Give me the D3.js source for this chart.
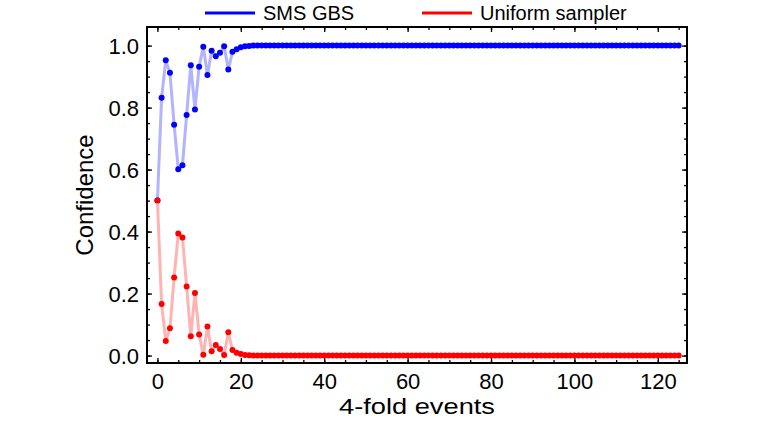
<!DOCTYPE html>
<html>
<head>
<meta charset="utf-8">
<script src="https://cdn.jsdelivr.net/npm/d3@7"></script>
<style>
  body { margin: 0; background: #fff; }
  svg { display: block; font-family: "Liberation Sans", Arial, sans-serif; }
  .frame { fill: none; stroke: #000; stroke-width: 2; }
  .tick line { stroke: #000; stroke-width: 1.3; }
  .tick text { font-size: 22px; fill: #000; }
  .title { font-size: 24px; fill: #000; }
  .legend text { font-size: 20px; fill: #000; }
</style>
</head>
<body>
<div id="chart"></div>
<script>
// Confidence after each 4-fold event (index = number of events).
var smsGbs = [
  0.5, 0.832, 0.953, 0.912, 0.745, 0.601, 0.614, 0.776, 0.937, 0.794,
  0.932, 0.996, 0.905, 0.983, 0.966, 0.977, 0.998, 0.923, 0.980, 0.988,
  0.995, 0.998, 0.999, 1, 1, 1, 1, 1, 1, 1,
  1, 1, 1, 1, 1, 1, 1, 1, 1, 1,
  1, 1, 1, 1, 1, 1, 1, 1, 1, 1,
  1, 1, 1, 1, 1, 1, 1, 1, 1, 1,
  1, 1, 1, 1, 1, 1, 1, 1, 1, 1,
  1, 1, 1, 1, 1, 1, 1, 1, 1, 1,
  1, 1, 1, 1, 1, 1, 1, 1, 1, 1,
  1, 1, 1, 1, 1, 1, 1, 1, 1, 1,
  1, 1, 1, 1, 1, 1, 1, 1, 1, 1,
  1, 1, 1, 1, 1, 1, 1, 1, 1, 1,
  1, 1, 1, 1, 1, 1
];
var uniform = [
  0.5, 0.166, 0.047, 0.088, 0.252, 0.394, 0.381, 0.223, 0.062, 0.202,
  0.068, 0.003, 0.094, 0.014, 0.034, 0.021, 0.002, 0.075, 0.018, 0.009,
  0.005, 0.002, 0.001, 0, 0, 0, 0, 0, 0, 0,
  0, 0, 0, 0, 0, 0, 0, 0, 0, 0,
  0, 0, 0, 0, 0, 0, 0, 0, 0, 0,
  0, 0, 0, 0, 0, 0, 0, 0, 0, 0,
  0, 0, 0, 0, 0, 0, 0, 0, 0, 0,
  0, 0, 0, 0, 0, 0, 0, 0, 0, 0,
  0, 0, 0, 0, 0, 0, 0, 0, 0, 0,
  0, 0, 0, 0, 0, 0, 0, 0, 0, 0,
  0, 0, 0, 0, 0, 0, 0, 0, 0, 0,
  0, 0, 0, 0, 0, 0, 0, 0, 0, 0,
  0, 0, 0, 0, 0, 0
];
var seriesNames = ['SMS GBS', 'Uniform sampler'];
var xTicks = [0, 20, 40, 60, 80, 100, 120];
var yTicks = [0.0, 0.2, 0.4, 0.6, 0.8, 1.0];

var width = 757, height = 421;
var plotLeft = 147, plotRight = 687, plotTop = 27, plotBottom = 363;

var x = d3.scaleLinear().domain([-2.5, 127]).range([plotLeft, plotRight]);
var y = d3.scaleLinear().domain([-0.024, 1.06]).range([plotBottom, plotTop]);

var svg = d3.select('#chart').append('svg')
    .attr('width', width)
    .attr('height', height);

// Ticks point inward on all four sides; only bottom and left carry labels.
var minorX = d3.range(0, 126, 5);
var minorY = d3.range(0, 1.0001, 0.05);

function noDomain(g) { g.select('.domain').remove(); }

svg.append('g')
    .attr('transform', 'translate(0,' + plotBottom + ')')
    .call(d3.axisBottom(x).tickValues(minorX).tickSizeInner(-3).tickSizeOuter(0).tickFormat(''))
    .call(noDomain);
svg.append('g')
    .attr('transform', 'translate(0,' + plotTop + ')')
    .call(d3.axisTop(x).tickValues(minorX).tickSizeInner(-3).tickSizeOuter(0).tickFormat(''))
    .call(noDomain);
svg.append('g')
    .attr('transform', 'translate(0,' + plotBottom + ')')
    .call(d3.axisBottom(x).tickValues(xTicks).tickSizeInner(-5).tickSizeOuter(0).tickFormat(d3.format('d')))
    .call(function(g) {
      noDomain(g);
      g.selectAll('text').attr('y', 26).attr('dy', null);
    });
svg.append('g')
    .attr('transform', 'translate(0,' + plotTop + ')')
    .call(d3.axisTop(x).tickValues(xTicks).tickSizeInner(-5).tickSizeOuter(0).tickFormat(''))
    .call(noDomain);

svg.append('g')
    .attr('transform', 'translate(' + plotLeft + ',0)')
    .call(d3.axisLeft(y).tickValues(minorY).tickSizeInner(-3).tickSizeOuter(0).tickFormat(''))
    .call(noDomain);
svg.append('g')
    .attr('transform', 'translate(' + plotRight + ',0)')
    .call(d3.axisRight(y).tickValues(minorY).tickSizeInner(-3).tickSizeOuter(0).tickFormat(''))
    .call(noDomain);
svg.append('g')
    .attr('transform', 'translate(' + plotLeft + ',0)')
    .call(d3.axisLeft(y).tickValues(yTicks).tickSizeInner(-5).tickSizeOuter(0).tickFormat(d3.format('.1f')))
    .call(function(g) {
      noDomain(g);
      g.selectAll('text').attr('x', -8).attr('dy', '0.36em');
    });
svg.append('g')
    .attr('transform', 'translate(' + plotRight + ',0)')
    .call(d3.axisRight(y).tickValues(yTicks).tickSizeInner(-5).tickSizeOuter(0).tickFormat(''))
    .call(noDomain);

svg.append('rect').attr('class', 'frame')
    .attr('x', plotLeft).attr('y', plotTop)
    .attr('width', plotRight - plotLeft).attr('height', plotBottom - plotTop);

// Series
var series = [
  {name: seriesNames[0], values: smsGbs, color: '#0000ff', light: '#b3b3ff'},
  {name: seriesNames[1], values: uniform, color: '#ff0000', light: '#ffb3b3'}
];

var line = d3.line()
    .x(function(d, i) { return x(i); })
    .y(function(d) { return y(d); });

series.forEach(function(s) {
  svg.append('path')
      .attr('d', line(s.values))
      .attr('fill', 'none')
      .attr('stroke', s.light)
      .attr('stroke-width', 3)
      .attr('stroke-linejoin', 'round');
  svg.append('g').selectAll('circle').data(s.values).enter().append('circle')
      .attr('cx', function(d, i) { return x(i); })
      .attr('cy', function(d) { return y(d); })
      .attr('r', 3)
      .attr('fill', s.color);
});

// Axis titles
svg.append('text').attr('class', 'title')
    .attr('x', (plotLeft + plotRight) / 2).attr('y', 414)
    .attr('text-anchor', 'middle')
    .attr('textLength', 156)
    .attr('lengthAdjust', 'spacingAndGlyphs')
    .style('font-size', '22px')
    .text('4-fold events');
svg.append('text').attr('class', 'title')
    .attr('transform', 'translate(93,' + (plotTop + plotBottom) / 2 + ') rotate(-90)')
    .attr('text-anchor', 'middle')
    .text('Confidence');

// Legend
var legendPos = [205, 422];
var legend = svg.append('g').attr('class', 'legend');
series.forEach(function(s, i) {
  legend.append('line')
      .attr('x1', legendPos[i]).attr('x2', legendPos[i] + 50)
      .attr('y1', 13).attr('y2', 13)
      .attr('stroke', s.color).attr('stroke-width', 3);
  legend.append('text')
      .attr('x', legendPos[i] + 58).attr('y', 20)
      .text(s.name);
});
</script>
</body>
</html>
